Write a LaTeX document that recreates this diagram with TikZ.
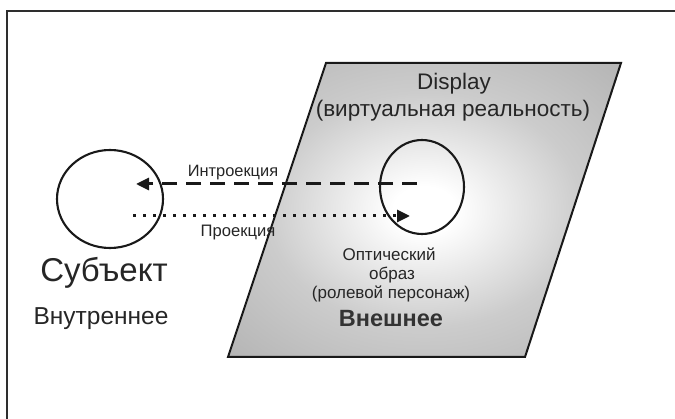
\documentclass[tikz,border=0pt]{standalone}
\usepackage{fontspec}
\setmainfont{Liberation Sans}
\usetikzlibrary{arrows.meta,shapes.geometric}

% soft glow of the screen: white in the middle, grey towards the corners
\pgfdeclareradialshading{screenglow}{\pgfpoint{0bp}{0bp}}{%
  color(0bp)=(white); color(4bp)=(white); color(20bp)=(black!20);
  color(40bp)=(black!32); color(72bp)=(black!50)}

\begin{document}
\begin{tikzpicture}[x=1pt,y=-1pt,
  frameline/.style={draw=black!82, line width=1.7pt},
  ink/.style={draw=black!90, line width=2.1pt},
  lbl/.style={text=black!85, inner sep=0pt, anchor=base},
  flow/.style={draw=black!90, line width=3pt,
    -{Triangle[length=13pt,width=12pt]}},
  introflow/.style={flow, dash pattern=on 15pt off 9pt},
  projflow/.style={flow, dash pattern=on 3pt off 7pt},
]
\useasboundingbox (0,0) rectangle (675,419);

% outer frame (open to the right and bottom)
\draw[frameline] (676,11) -- (7,11) -- (7,420);

% the display plane
\path[shading=screenglow, draw=black!90, line width=2pt]
  (326,63) -- (621,63) -- (525,357) -- (228,357) -- cycle;

% subject and its optical image
\node[ellipse, ink, minimum width=106pt, minimum height=98pt] (subj) at (110,199) {};
\node[ellipse, ink, minimum width=84pt, minimum height=94pt] (img) at (422,187) {};

% flow endpoints
\coordinate (introStart) at (417,184);
\coordinate (introEnd) at (136,184);
\coordinate (projStart) at (133,216);
\coordinate (projEnd) at (410,216);

% labels of the display
\node[lbl, font=\fontsize{22.5}{27}\selectfont] (disp) at (454,90) {Display};
\node[lbl, font=\fontsize{22.5}{27}\selectfont] (virt) at (453,117) {(виртуальная реальность)};
\node[lbl, font=\fontsize{17}{19}\selectfont] (opt1) at (389,261) {Оптический};
\node[lbl, font=\fontsize{17}{19}\selectfont] (opt2) at (392,280) {образ};
\node[lbl, font=\fontsize{17}{19}\selectfont] (opt3) at (391,299) {(ролевой персонаж)};
\node[lbl, text=black!80, font=\fontsize{23.5}{27}\bfseries\selectfont] (outer) at (391,327) {Внешнее};

% labels of the subject
\node[lbl, font=\fontsize{33}{38}\selectfont] (subjname) at (104,282) {Субъект};
\node[lbl, font=\fontsize{24.5}{28}\selectfont] (inner) at (101,325) {Внутреннее};

% flows between subject and image
\draw[introflow] (introStart) -- (introEnd);
\draw[projflow] (projStart) -- (projEnd);
\node[lbl, font=\fontsize{16.4}{19}\selectfont] (introlbl) at (233,177) {Интроекция};
\node[lbl, font=\fontsize{16.6}{19}\selectfont] (projlbl) at (238,237) {Проекция};
\end{tikzpicture}
\end{document}
